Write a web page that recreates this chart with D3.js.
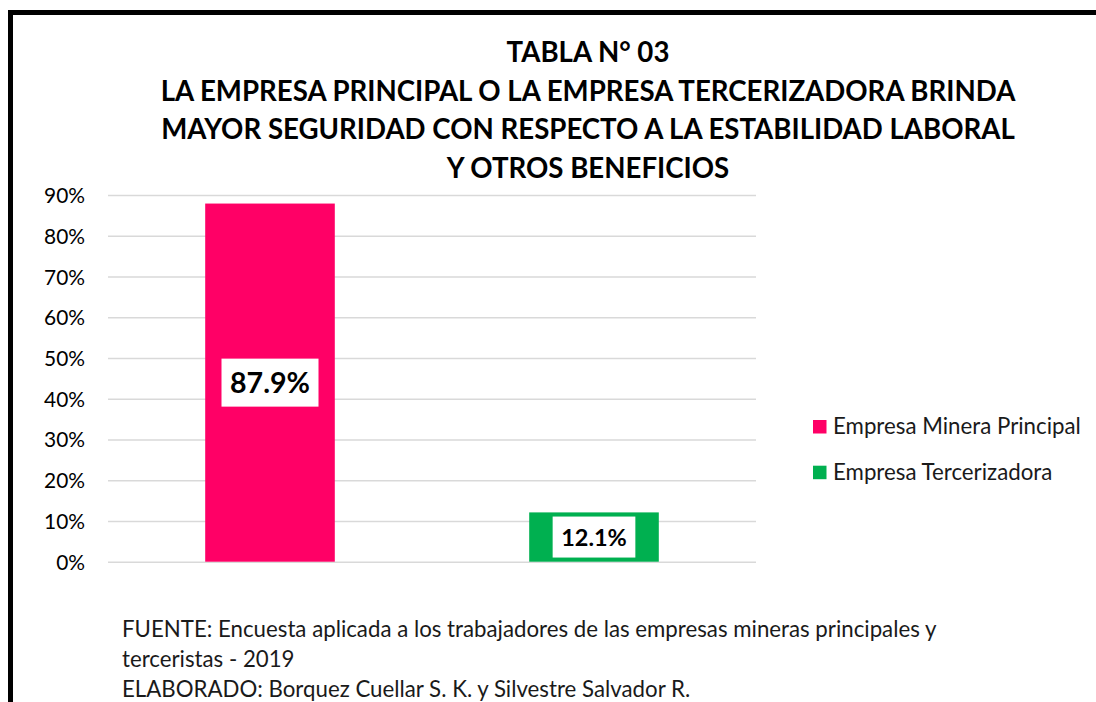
<!DOCTYPE html>
<html>
<head>
<meta charset="utf-8">
<script src="https://cdn.jsdelivr.net/npm/d3@7"></script>
<style>
  body { margin: 0; background: #fff; }
  text { font-family: Lato, "Noto Sans", sans-serif; fill: #000; }
</style>
</head>
<body>
<div id="chart-area"></div>
<script>
// data
var series = ["Empresa Minera Principal", "Empresa Tercerizadora"];
var values = [87.9, 12.1];
var colors = ["#FF0066", "#00B050"];
var tickValues = [0, 10, 20, 30, 40, 50, 60, 70, 80, 90];
var titleLines = [
  "TABLA N° 03",
  "LA EMPRESA PRINCIPAL O LA EMPRESA TERCERIZADORA BRINDA",
  "MAYOR SEGURIDAD CON RESPECTO A LA ESTABILIDAD LABORAL",
  "Y OTROS BENEFICIOS"
];
var footerLines = [
  "FUENTE: Encuesta aplicada a los trabajadores de las empresas mineras principales y",
  "terceristas - 2019",
  "ELABORADO: Borquez Cuellar S. K. y Silvestre Salvador R."
];

var W = 1096, H = 702;
var plot = { left: 108, right: 756, top: 195, bottom: 561.7 };

var svg = d3.select("#chart-area")
  .append("svg")
  .attr("width", W)
  .attr("height", H);

// scale a text's font so its width matches the width in the picture
function fit(sel, target, base) {
  sel.style("font-size", base + "px");
  var w = sel.node().getComputedTextLength();
  var s = base * target / w;
  sel.style("font-size", s + "px");
  return s;
}

// frame
svg.append("rect")
  .attr("x", 10.5).attr("y", 12.5)
  .attr("width", 1200).attr("height", 800)
  .attr("fill", "none")
  .attr("stroke", "#000")
  .attr("stroke-width", 5);

// title
var title = svg.append("g").attr("class", "title");
var tl = title.selectAll("text").data(titleLines).enter()
  .append("text")
  .attr("x", 588)
  .attr("y", function(d, i) { return 62 + i * 38.5; })
  .attr("text-anchor", "middle")
  .style("font-weight", "bold")
  .text(function(d) { return d; });
var ts = fit(d3.select(tl.nodes()[1]), 855, 28);
tl.style("font-size", ts + "px");

var x = d3.scaleBand()
  .domain(series)
  .range([plot.left, plot.right])
  .paddingInner(0.6)
  .paddingOuter(0.3);

var y = d3.scaleLinear()
  .domain([0, 90])
  .range([plot.bottom, plot.top]);

var yAxis = d3.axisLeft(y)
  .tickValues(tickValues)
  .tickSize(-(plot.right - plot.left))
  .tickPadding(23)
  .tickFormat(function(d) { return d + "%"; });

var gy = svg.append("g")
  .attr("class", "y axis")
  .attr("transform", "translate(" + plot.left + ",0)")
  .call(yAxis);
gy.select(".domain").remove();
gy.selectAll("line").attr("stroke", "#d9d9d9").attr("stroke-width", 1.5);
var tickText = gy.selectAll("text").attr("fill", "#000").attr("dy", "0.36em");
var tks = fit(d3.select(tickText.nodes()[9]), 41, 20);
tickText.style("font-size", tks + "px");

// bars
svg.selectAll("rect.bar").data(values).enter()
  .append("rect")
  .attr("class", "bar")
  .attr("x", function(d, i) { return x(series[i]); })
  .attr("width", x.bandwidth())
  .attr("y", function(d) { return y(d); })
  .attr("height", function(d) { return y(0) - y(d); })
  .attr("fill", function(d, i) { return colors[i]; });

// data labels
var labelWidths = [80, 65.7];
var labelBoxH = [48, 41];
values.forEach(function(v, i) {
  var cx = x(series[i]) + x.bandwidth() / 2;
  var cy = (y(v) + y(0)) / 2;
  var g = svg.append("g").attr("class", "label");
  var box = g.append("rect").attr("fill", "#fff");
  var t = g.append("text")
    .attr("x", cx)
    .attr("y", cy)
    .attr("dy", "0.36em")
    .attr("text-anchor", "middle")
    .style("font-weight", "bold")
    .text(v.toFixed(1) + "%");
  fit(t, labelWidths[i], 26);
  var w = labelWidths[i] + 17;
  box.attr("x", cx - w / 2)
    .attr("y", cy - labelBoxH[i] / 2)
    .attr("width", w)
    .attr("height", labelBoxH[i]);
});

// legend
var legend = svg.append("g").attr("class", "legend");
var items = legend.selectAll("g").data(series).enter()
  .append("g")
  .attr("transform", function(d, i) { return "translate(813," + (420 + i * 45.7) + ")"; });
items.append("rect")
  .attr("width", 13.5).attr("height", 13.5)
  .attr("fill", function(d, i) { return colors[i]; });
var lt = items.append("text")
  .attr("x", 20)
  .attr("y", 14)
  .style("fill", "#1a1a1a")
  .text(function(d) { return d; });
var ls = fit(d3.select(lt.nodes()[0]), 248, 20);
lt.style("font-size", ls + "px");

// footer
var ft = svg.append("g").attr("class", "footer")
  .selectAll("text").data(footerLines).enter()
  .append("text")
  .attr("x", 122)
  .attr("y", function(d, i) { return 637 + i * 30; })
  .style("fill", "#1a1a1a")
  .text(function(d) { return d; });
var fs = fit(d3.select(ft.nodes()[0]), 815, 20);
ft.style("font-size", fs + "px");
</script>
</body>
</html>
